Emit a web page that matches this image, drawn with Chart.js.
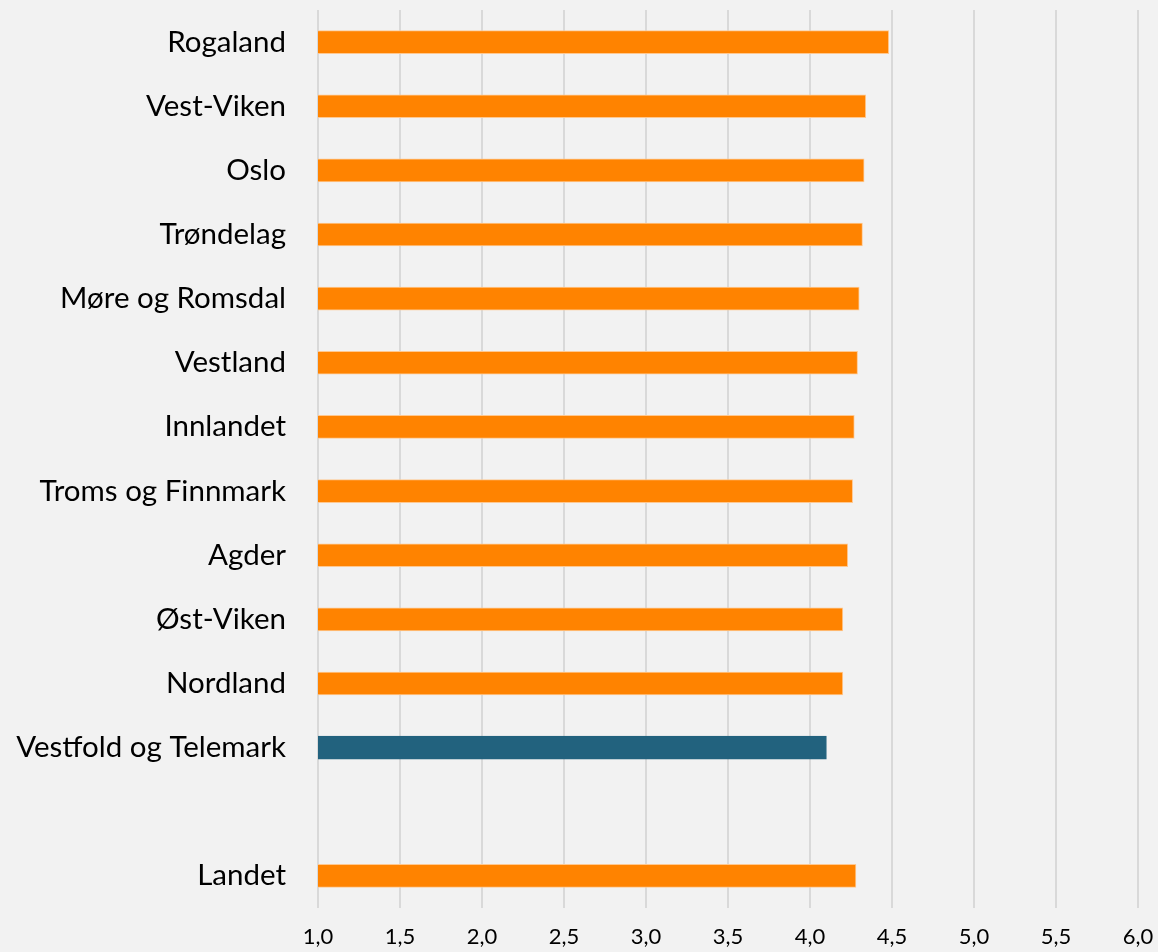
<!DOCTYPE html>
<html>
<head>
<meta charset="utf-8">
<script src="https://cdn.jsdelivr.net/npm/chart.js@4/dist/chart.umd.min.js"></script>
<style>
    html, body { margin: 0; padding: 0; background: #f2f2f2; }
    #wrap { width: 1158px; height: 952px; }
</style>
</head>
<body>
<div id="wrap"><canvas id="chart"></canvas></div>
<script>
const categories = [
    'Rogaland', 'Vest-Viken', 'Oslo', 'Trøndelag', 'Møre og Romsdal', 'Vestland',
    'Innlandet', 'Troms og Finnmark', 'Agder', 'Øst-Viken', 'Nordland',
    'Vestfold og Telemark', '', 'Landet'
];
const values = [4.48, 4.34, 4.33, 4.32, 4.30, 4.29, 4.27, 4.26, 4.23, 4.20, 4.20, 4.10, null, 4.28];
const highlighted = 'Vestfold og Telemark';
const xMin = 1.0;
const xMax = 6.0;
const xStep = 0.5;

const orange = '#ff8300';
const blue = '#22627e';

new Chart(document.getElementById('chart'), {
    type: 'bar',
    data: {
        labels: categories,
        datasets: [{
            data: values,
            backgroundColor: categories.map(c => c === highlighted ? blue : orange),
            borderColor: categories.map(c => c === highlighted ? blue : '#ffc890'),
            borderWidth: 1,
            borderSkipped: false,
            barThickness: 23
        }]
    },
    options: {
        indexAxis: 'y',
        responsive: true,
        maintainAspectRatio: false,
        animation: false,
        layout: { padding: { top: 10, right: 20, left: 0, bottom: 0 } },
        plugins: {
            legend: { display: false },
            tooltip: { enabled: false }
        },
        scales: {
            x: {
                min: xMin,
                max: xMax,
                ticks: {
                    stepSize: xStep,
                    color: '#000',
                    font: { family: 'Lato', size: 22 },
                    padding: 16,
                    maxRotation: 0,
                    callback: v => Number(v).toFixed(1).replace('.', ',')
                },
                grid: { color: '#d9d9d9', lineWidth: 2, drawTicks: false },
                border: { display: false },
                afterFit: scale => {
                    scale.height = 44;
                    scale.paddingLeft = 0;
                    scale.paddingRight = 0;
                }
            },
            y: {
                ticks: {
                    color: '#000',
                    font: { family: 'Lato', size: 29.5 },
                    padding: 32
                },
                grid: { display: false, drawTicks: false },
                border: { display: false },
                afterFit: scale => {
                    scale.width = 318;
                    scale.paddingTop = 0;
                    scale.paddingBottom = 0;
                }
            }
        }
    }
});
</script>
</body>
</html>
